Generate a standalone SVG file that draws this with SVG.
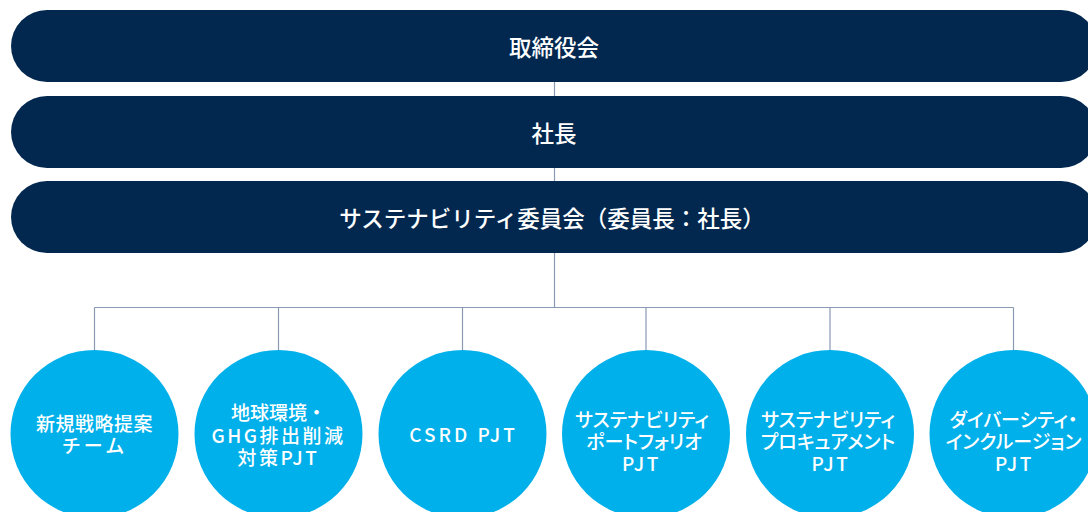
<svg xmlns="http://www.w3.org/2000/svg" width="1088" height="512" viewBox="0 0 1088 512">
<style>
.bar{fill:#02284f}
.circ{fill:#00b0ea}
.conn{stroke:#8a9ab3;stroke-width:1.2;fill:none}
.bt{font-family:"Noto Sans CJK JP","Noto Sans",sans-serif;font-size:22.5px;font-weight:500;fill:#ffffff;text-anchor:middle;dominant-baseline:central}
.ct{font-family:"Noto Sans CJK JP","Noto Sans",sans-serif;font-size:19px;font-weight:500;fill:#ffffff;text-anchor:middle;dominant-baseline:central}
.kana{font-feature-settings:"palt"}
</style>
<rect width="1088" height="512" fill="#ffffff"/>
<g id="connectors">
<path class="conn" d="M554.5 82V96M554.5 168V181M554.5 253V307.5M94.5 307.5H1013.5M94.5 307.5V352M278.5 307.5V352M462.5 307.5V352M646 307.5V352M830 307.5V352M1013.5 307.5V352"/>
</g>
<g id="board">
<rect class="bar" x="11" y="10" width="1086" height="72" rx="36"/>
<text class="bt" x="554" y="46">取締役会</text>
</g>
<g id="president">
<rect class="bar" x="11" y="96" width="1086" height="72" rx="36"/>
<text class="bt" x="554" y="132">社長</text>
</g>
<g id="committee">
<rect class="bar" x="11" y="181" width="1086" height="72" rx="36"/>
<text class="bt" x="552" y="217">サステナビリティ委員会（委員長：社長）</text>
</g>
<g id="n1">
<circle class="circ" cx="94.5" cy="434" r="84"/>
<text class="ct"><tspan x="94.5" y="422" letter-spacing="0.5">新規戦略提案</tspan><tspan x="94.5" y="444" letter-spacing="3">チーム</tspan></text>
</g>
<g id="n2">
<circle class="circ" cx="278.5" cy="434" r="84"/>
<text class="ct"><tspan x="278.5" y="411">地球環境・</tspan><tspan x="278.5" y="433.5" letter-spacing="2.5">GHG排出削減</tspan><tspan x="278.5" y="456" letter-spacing="2.5">対策PJT</tspan></text>
</g>
<g id="n3">
<circle class="circ" cx="462.5" cy="434" r="84"/>
<text class="ct" x="463.5" y="433" letter-spacing="3">CSRD PJT</text>
</g>
<g id="n4">
<circle class="circ" cx="646" cy="434" r="84"/>
<text class="ct kana"><tspan x="642" y="418">サステナビリティ</tspan><tspan x="644" y="440">ポートフォリオ</tspan><tspan x="641.5" y="462" letter-spacing="2.5">PJT</tspan></text>
</g>
<g id="n5">
<circle class="circ" cx="830" cy="434" r="84"/>
<text class="ct kana"><tspan x="828" y="418">サステナビリティ</tspan><tspan x="828" y="440">プロキュアメント</tspan><tspan x="831" y="462" letter-spacing="2.5">PJT</tspan></text>
</g>
<g id="n6">
<circle class="circ" cx="1013.5" cy="434" r="84"/>
<text class="ct kana"><tspan x="1013.5" y="418">ダイバーシティ・</tspan><tspan x="1013.5" y="440">インクルージョン</tspan><tspan x="1014.5" y="462" letter-spacing="2.5">PJT</tspan></text>
</g>
</svg>
